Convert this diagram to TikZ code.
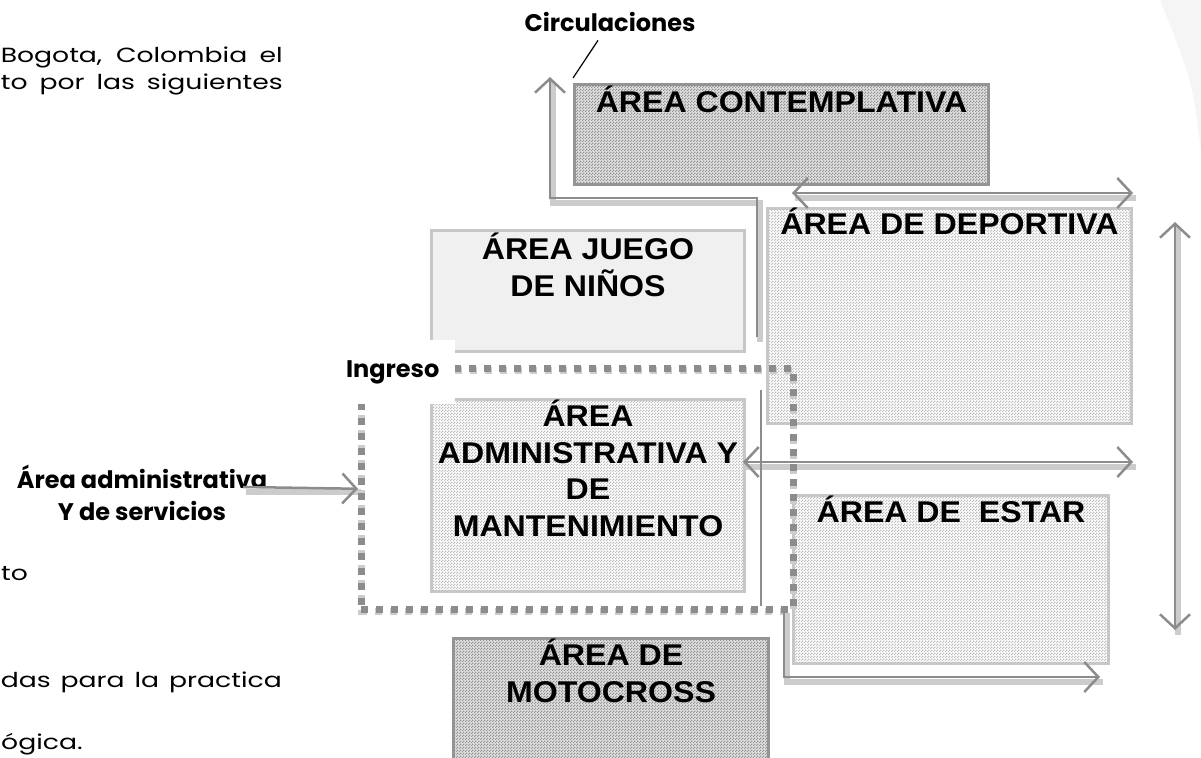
\documentclass[tikz,border=0pt]{standalone}
\usepackage{fontspec}
\setmainfont{Liberation Sans}
\newfontfamily\zonefont{Liberation Sans}[FakeStretch=1.07]
\newfontfamily\gothic{Poppins}
\newfontfamily\gothicwide{Poppins}[FakeStretch=1.3]
\usetikzlibrary{arrows.meta, patterns}
\pgfdeclarepatternformonly{finechecker}{\pgfpointorigin}{\pgfqpoint{3pt}{3pt}}{\pgfqpoint{3pt}{3pt}}{
	\pgfpathrectangle{\pgfpointorigin}{\pgfqpoint{1.5pt}{1.5pt}}
	\pgfpathrectangle{\pgfqpoint{1.5pt}{1.5pt}}{\pgfqpoint{1.5pt}{1.5pt}}
	\pgfusepath{fill}}
\tikzstyle{zone} = [rectangle, draw=black!22, line width=3pt, inner sep=0pt, anchor=north west]
\tikzstyle{zonedark} = [zone, draw=black!42, preaction={fill=black!12}, pattern=finechecker, pattern color=black!42]
\tikzstyle{zonelight} = [zone, preaction={fill=white}, pattern=finechecker, pattern color=black!26]
\tikzstyle{zoneplain} = [zone, fill=black!6]
\tikzstyle{zonetext} = [font=\zonefont\bfseries\fontsize{30}{36.5}\selectfont, align=center, anchor=north, inner sep=0pt]
\tikzstyle{note} = [font=\gothic\bfseries\fontsize{24}{32}\selectfont, align=center, inner sep=0pt]
\tikzstyle{body} = [font=\gothicwide\fontsize{20.5}{27}\selectfont, inner sep=0pt, anchor=base east]
\tikzstyle{entry} = [rectangle, draw=black!45, line width=6.5pt, dash pattern=on 7pt off 8pt, inner sep=0pt, anchor=north west]
\tikzstyle{walk} = [draw=black!45, line width=2.5pt]
\tikzstyle{arrow} = [walk, ->, >={Straight Barb[length=14pt,width=30pt]}]
\tikzstyle{twoway} = [arrow, <->]
\tikzstyle{shadowline} = [draw=black!20, line width=6pt, transform canvas={shift={(3pt,-5pt)}}]

\begin{document}
\begin{tikzpicture}[x=1pt, y=-1pt]
	\clip (0,0) rectangle (1201,757);
	\fill[black!4] (1160,0) -- (1201,0) -- (1201,150) .. controls (1192,80) .. (1160,0);

	% text of the page
	\node (body1) [body] at (283,63) {\makebox[282pt][s]{Bogota, Colombia el}};
	\node (body2) [body] at (283,90) {\makebox[282pt][s]{to por las siguientes}};
	\node (body3) [body, anchor=base west] at (1,580) {to};
	\node (body4) [body] at (282,687) {\makebox[281pt][s]{das para la practica}};
	\node (body5) [body, anchor=base west] at (1,749) {ógica.};

	% zones
	\node (contemplativa) [zonedark, minimum width=414pt, minimum height=100pt, label={[zonetext, yshift=-3pt]north:ÁREA CONTEMPLATIVA}] at (573,83) {};
	\node (deportiva) [zonelight, minimum width=364pt, minimum height=215pt, label={[zonetext, yshift=-1pt]north:ÁREA DE DEPORTIVA}] at (766,207) {};
	\node (juego) [zoneplain, minimum width=313pt, minimum height=121pt, label={[zonetext, yshift=-4pt]north:ÁREA JUEGO\\DE NIÑOS}] at (430,229) {};
	\node (admin) [zonelight, minimum width=313pt, minimum height=192pt, label={[zonetext, yshift=-2pt]north:ÁREA\\ADMINISTRATIVA Y\\DE\\MANTENIMIENTO}] at (430,398) {};
	\node (estar) [zonelight, minimum width=315pt, minimum height=168pt, label={[zonetext, yshift=-2pt]north:ÁREA DE\ \ ESTAR}] at (792,494) {};
	\node (motocross) [zonedark, minimum width=315pt, minimum height=140pt, label={[zonetext, yshift=-2pt]north:ÁREA DE\\MOTOCROSS}] at (452,637) {};

	\coordinate (walkstart) at (757,337);
	\coordinate (walkbend) at (757,198);
	\coordinate (walkcorner) at (550,198);
	\coordinate (walktop) at (550,77);
	\coordinate (topleft) at (792,193);
	\coordinate (topright) at (1133,193);
	\coordinate (sideup) at (1175,222);
	\coordinate (sidedown) at (1175,630);
	\coordinate (midleft) at (743,462);
	\coordinate (midright) at (1133,462);
	\coordinate (edgetop) at (761,390);
	\coordinate (edgelow) at (761,606);
	\coordinate (lowstart) at (784,608);
	\coordinate (lowbend) at (784,677);
	\coordinate (lowend) at (1100,677);
	\coordinate (adminfrom) at (243,487);
	\coordinate (leaderend) at (573,78);

	% shadows
	\draw[shadowline] (walkstart) -- (walkbend) -- (walkcorner) -- (walktop);
	\draw[shadowline] (topleft) -- (topright);
	\draw[shadowline] (sideup) -- (sidedown);
	\draw[shadowline] (midleft) -- (midright);
	\draw[shadowline] (lowstart) -- (lowbend) -- (lowend);
	\draw[shadowline] (adminfrom) -- (358,487);
	\draw[shadowline, line width=7pt, dash pattern=on 7pt off 8pt] (358,365) rectangle (790,606);

	% circulations
	\draw[arrow] (walkstart) -- (walkbend) -- (walkcorner) -- (walktop);
	\draw[twoway] (topleft) -- (topright);
	\draw[twoway] (sideup) -- (sidedown);
	\draw[twoway] (midleft) -- (midright);
	\draw[walk] (edgetop) -- (edgelow);
	\draw[arrow] (lowstart) -- (lowbend) -- (lowend);

	% ingreso
	\node (ingbox) [entry, minimum width=432pt, minimum height=241pt] at (358,365) {};
	\node (ingreso) [note, fill=white, minimum width=125pt, minimum height=64pt, anchor=north west] at (330,340) {Ingreso};

	\node (circ) [note, anchor=base] at (610,32) {Circulaciones};
	\draw[line width=1.2pt] ([xshift=-12pt, yshift=-8pt]circ.south) -- (leaderend);

	\node (adminnote) [note, anchor=north] at (142,465) {Área administrativa\\Y de servicios};
	\draw[arrow] (adminfrom) -- (ingbox.west);
\end{tikzpicture}
\end{document}
